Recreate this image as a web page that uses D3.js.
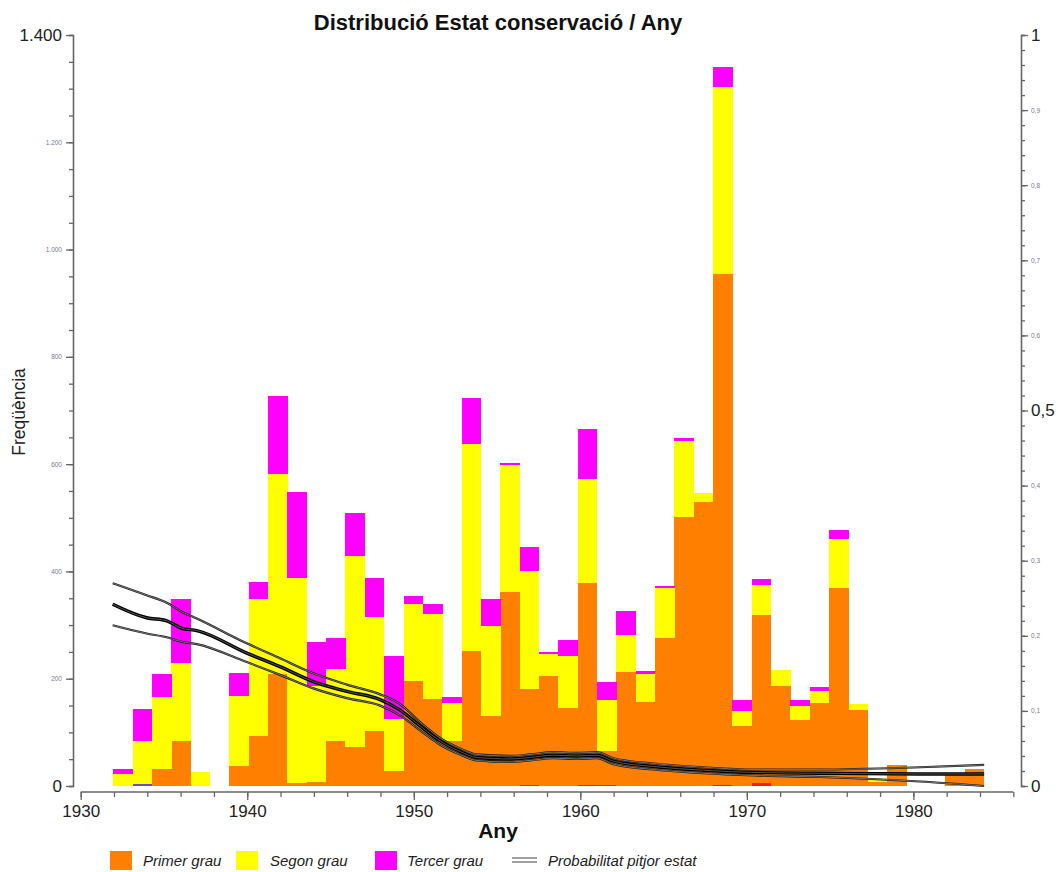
<!DOCTYPE html>
<html>
<head>
<meta charset="utf-8">
<script src="https://cdn.jsdelivr.net/npm/d3@7"></script>
<style>
  body { margin: 0; background: #fff; }
  text { font-family: "Liberation Sans", Arial, sans-serif; }
</style>
</head>
<body>
<svg id="chart" width="1058" height="872"></svg>
<script>
// Histogram bins (45 equal bins starting at binStart, each binWidth years wide)
const binStart = 1931.96;
const binWidth = 1.1617;

// Counts per bin for each conservation grade
const primerGrau = [0, 0, 31, 83, 0, 0, 38, 93, 208, 6, 8, 83, 73, 103, 28, 196, 162, 84, 252, 130,
  362, 178, 205, 146, 376, 63, 213, 157, 276, 501, 530, 953, 112, 312, 186, 123, 155, 370, 141, 8,
  39, 0, 0, 25, 32];
const segonGrau = [23, 81, 135, 147, 27, 0, 130, 255, 374, 381, 178, 135, 356, 212, 96, 144, 159, 71, 386, 168,
  236, 220, 42, 96, 194, 95, 68, 51, 93, 142, 17, 348, 28, 56, 31, 27, 23, 90, 11, 4,
  0, 0, 0, 0, 0];
const tercerGrau = [9, 59, 42, 118, 0, 0, 43, 33, 145, 162, 82, 58, 80, 73, 118, 14, 18, 10, 86, 50,
  5, 46, 3, 30, 93, 34, 45, 6, 4, 6, 0, 37, 20, 11, 0, 11, 6, 18, 0, 0,
  0, 0, 0, 0, 0];
// Small residual groups drawn at the foot of some bins
const grauIndet = [0, 3, 0, 0, 0, 0, 0, 0, 0, 0, 0, 0, 0, 0, 0, 0, 0, 0, 0, 0,
  0, 2, 0, 0, 0, 2, 0, 0, 0, 0, 0, 0, 0, 0, 0, 0, 0, 0, 0, 0,
  0, 0, 0, 0, 0];
const grauQuart = [0, 0, 0, 0, 0, 0, 0, 0, 0, 0, 0, 0, 0, 0, 0, 0, 0, 0, 0, 0,
  0, 0, 0, 0, 2, 0, 0, 0, 0, 0, 0, 2, 0, 6, 0, 0, 0, 0, 0, 0,
  0, 0, 0, 0, 0];

// Probability of worst state (with lower / upper band), right axis
const probYears = [1931.92, 1933.96, 1935.17, 1936.07, 1936.97, 1939.97, 1941.97, 1943.97, 1945.98, 1947.98,
  1949.18, 1950.38, 1951.58, 1952.78, 1953.78, 1955.78, 1956.98, 1958.38, 1959.79, 1960.99,
  1961.99, 1964.39, 1967.39, 1970.40, 1974.40, 1980.40, 1984.25];
const probMid = [0.242, 0.224, 0.220, 0.210, 0.207, 0.177, 0.159, 0.139, 0.126, 0.115,
  0.101, 0.080, 0.060, 0.046, 0.038, 0.036, 0.038, 0.041, 0.040, 0.041,
  0.033, 0.026, 0.021, 0.018, 0.017, 0.016, 0.016];
const probUpper = [0.270, 0.254, 0.244, 0.232, 0.223, 0.190, 0.170, 0.150, 0.135, 0.122,
  0.109, 0.085, 0.064, 0.050, 0.042, 0.040, 0.042, 0.045, 0.044, 0.045,
  0.037, 0.030, 0.025, 0.022, 0.022, 0.025, 0.028];
const probLower = [0.214, 0.203, 0.198, 0.192, 0.189, 0.165, 0.148, 0.130, 0.117, 0.107,
  0.094, 0.074, 0.055, 0.042, 0.034, 0.032, 0.034, 0.037, 0.036, 0.037,
  0.029, 0.022, 0.017, 0.014, 0.012, 0.006, 0.000];

const xTickYears = [1930, 1940, 1950, 1960, 1970, 1980];
const legendLabels = ["Primer grau", "Segon grau", "Tercer grau", "Probabilitat pitjor estat"];

const colors = {
  indet: "#6a4fc2",
  quart: "#ff1a1a",
  primer: "#ff8000",
  segon: "#ffff00",
  tercer: "#ff00ff"
};

const svg = d3.select("#chart");
svg.append("rect").attr("width", 1058).attr("height", 872).attr("fill", "#fff");

const x = d3.scaleLinear().domain([1930, 1986]).range([80.7, 1013.3]);
const yL = d3.scaleLinear().domain([0, 1400]).range([786, 35]);
const yR = d3.scaleLinear().domain([0, 1]).range([786, 35]);

const locale = d3.formatLocale({ decimal: ",", thousands: ".", grouping: [3], currency: ["", "€"] });
const fmtInt = locale.format(",d");
const fmtDec = v => (v === 0 || v === 1) ? String(v) : locale.format(".1f")(v);

// ---- stacked histogram ----
const rows = primerGrau.map((_, i) => ({
  x0: binStart + i * binWidth,
  x1: binStart + (i + 1) * binWidth,
  indet: grauIndet[i], quart: grauQuart[i],
  primer: primerGrau[i], segon: segonGrau[i], tercer: tercerGrau[i]
}));
const keys = ["indet", "quart", "primer", "segon", "tercer"];
const series = d3.stack().keys(keys)(rows);

const gBars = svg.append("g");
series.forEach(s => {
  gBars.append("g").attr("fill", colors[s.key])
    .selectAll("rect").data(s.filter(d => d[1] - d[0] > 0)).join("rect")
    .attr("x", d => x(d.data.x0))
    .attr("width", d => x(d.data.x1) - x(d.data.x0) + 0.3)
    .attr("y", d => yL(d[1]))
    .attr("height", d => yL(d[0]) - yL(d[1]))
    .attr("shape-rendering", "crispEdges");
});

// ---- probability lines ----
const lineFor = arr => d3.line()
  .x((d, i) => x(probYears[i]))
  .y((d, i) => yR(arr[i]))
  .curve(d3.curveMonotoneX)(arr);

const gLines = svg.append("g").attr("fill", "none");
[probUpper, probLower].forEach(arr => {
  gLines.append("path").attr("d", lineFor(arr)).attr("stroke", "#1a1a1a").attr("stroke-width", 2.2);
  gLines.append("path").attr("d", lineFor(arr)).attr("stroke", "#9a9a9a").attr("stroke-width", 0.7);
});
gLines.append("path").attr("d", lineFor(probMid)).attr("stroke", "#000").attr("stroke-width", 3.4);
gLines.append("path").attr("d", lineFor(probMid)).attr("stroke", "#5a5a5a").attr("stroke-width", 0.9);

// ---- axes ----
const axisColor = "#666";
function styleAxis(g) {
  g.selectAll("path.domain").attr("stroke", axisColor).attr("stroke-width", 1.6);
  g.selectAll(".tick line").attr("stroke", axisColor).attr("stroke-width", 1.3);
}

// Left axis: minor ticks every 50, labelled ticks every 200
const leftMinor = svg.append("g").attr("transform", "translate(73,0)")
  .call(d3.axisLeft(yL).tickValues(d3.range(0, 1401, 50)).tickSize(4).tickFormat(""));
styleAxis(leftMinor);
const leftMajor = svg.append("g").attr("transform", "translate(73,0)")
  .call(d3.axisLeft(yL).tickValues(d3.range(0, 1401, 200)).tickSize(7).tickFormat(fmtInt).tickPadding(4));
styleAxis(leftMajor);
leftMajor.select("path.domain").remove();
leftMajor.selectAll(".tick text")
  .attr("font-size", d => (d === 0 || d === 1400) ? 17 : 6.5)
  .attr("fill", d => (d === 0 || d === 1400) ? "#222" : "#7a7890");

// Right axis: minor ticks every 0.02, labelled ticks every 0.1
const rightMinor = svg.append("g").attr("transform", "translate(1021,0)")
  .call(d3.axisRight(yR).tickValues(d3.range(0, 51).map(i => i / 50)).tickSize(4).tickFormat(""));
styleAxis(rightMinor);
const rightMajor = svg.append("g").attr("transform", "translate(1021,0)")
  .call(d3.axisRight(yR).tickValues(d3.range(0, 11).map(i => i / 10)).tickSize(7).tickFormat(fmtDec).tickPadding(3));
styleAxis(rightMajor);
rightMajor.select("path.domain").remove();
const bigRight = d => d === 0 || d === 1 || Math.abs(d - 0.5) < 1e-9;
rightMajor.selectAll(".tick text")
  .attr("font-size", d => bigRight(d) ? 17 : 6.5)
  .attr("fill", d => bigRight(d) ? "#222" : "#7a7890");

// Bottom axis: ticks every 2 years, labels each decade
const bottomMinor = svg.append("g").attr("transform", "translate(0,792)")
  .call(d3.axisBottom(x).tickValues(d3.range(1930, 1987, 2)).tickSize(5).tickFormat(""));
styleAxis(bottomMinor);
bottomMinor.select("path.domain").attr("d", `M${x(1930)},0H${x(1986)}`);
const bottomMajor = svg.append("g").attr("transform", "translate(0,792)")
  .call(d3.axisBottom(x).tickValues(xTickYears).tickSize(8).tickFormat(d3.format("d")).tickPadding(5));
styleAxis(bottomMajor);
bottomMajor.select("path.domain").remove();
bottomMajor.selectAll(".tick text").attr("font-size", 17).attr("fill", "#222");

// ---- titles ----
svg.append("text").attr("x", 498).attr("y", 30).attr("text-anchor", "middle")
  .attr("font-size", 22).attr("font-weight", "bold").attr("fill", "#111")
  .text("Distribució Estat conservació / Any");
svg.append("text").attr("x", 498).attr("y", 838).attr("text-anchor", "middle")
  .attr("font-size", 21).attr("font-weight", "bold").attr("fill", "#111")
  .text("Any");
svg.append("text").attr("transform", "translate(25,412) rotate(-90)").attr("text-anchor", "middle")
  .attr("font-size", 17.5).attr("fill", "#222")
  .text("Freqüència");

// ---- legend ----
const legend = svg.append("g");
const swatches = [
  { x: 110, key: "primer", tx: 143 },
  { x: 236, key: "segon", tx: 270 },
  { x: 375, key: "tercer", tx: 407 }
];
swatches.forEach((s, i) => {
  legend.append("rect").attr("x", s.x).attr("y", 851).attr("width", 22).attr("height", 19)
    .attr("fill", colors[s.key]);
  legend.append("text").attr("x", s.tx).attr("y", 866).attr("font-size", 15)
    .attr("font-style", "italic").attr("fill", "#222").text(legendLabels[i]);
});
legend.append("line").attr("x1", 512).attr("x2", 537).attr("y1", 858).attr("y2", 858)
  .attr("stroke", "#888").attr("stroke-width", 1.6);
legend.append("line").attr("x1", 512).attr("x2", 537).attr("y1", 862).attr("y2", 862)
  .attr("stroke", "#888").attr("stroke-width", 1.6);
legend.append("text").attr("x", 548).attr("y", 866).attr("font-size", 15)
  .attr("font-style", "italic").attr("fill", "#222").text(legendLabels[3]);
</script>
</body>
</html>
